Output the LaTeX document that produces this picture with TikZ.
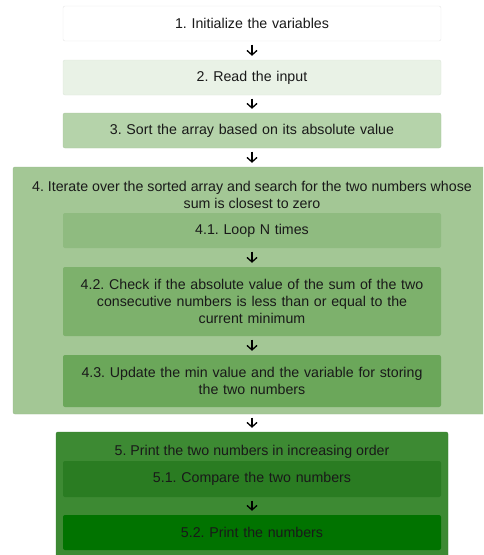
\documentclass[tikz,border=0pt]{standalone}
\usepackage{fontspec}
\setmainfont{Liberation Sans}
\usetikzlibrary{arrows.meta}
\definecolor{c2}{HTML}{E9F2E6}
\definecolor{c3}{HTML}{B5D3AA}
\definecolor{c4}{HTML}{A3C795}
\definecolor{c41}{HTML}{8FBB80}
\definecolor{c42}{HTML}{7DB16C}
\definecolor{c43}{HTML}{6BA75A}
\definecolor{c5}{HTML}{3D8A33}
\definecolor{c51}{HTML}{2A7C22}
\definecolor{c52}{HTML}{017300}
\frenchspacing

\begin{document}
\begin{tikzpicture}[x=1pt,y=-1pt,
    stepbox/.style={rounded corners=2pt,minimum width=378pt,text width=374pt,
      align=center,inner sep=0pt,text=black!90,
      font=\fontsize{14.2}{17}\selectfont},
    title/.style={align=center,inner sep=0pt,text=black!90,
      font=\fontsize{14.2}{17}\selectfont},
    arr/.style={-{Straight Barb[length=4.5pt,width=10pt]},line width=1.3pt,
      shorten <=3.5pt,shorten >=4pt}]
    \useasboundingbox (0,0) rectangle (483,555);
    \clip (0,0) rectangle (483,555);
    % outer groups
    \node[stepbox,fill=c4,draw=c4!80!black!30!c4,minimum width=478pt,minimum height=247pt] (s4) at (252,290.5) {};
    \node[stepbox,fill=c5,draw=c5!90!black,minimum width=392pt,minimum height=134pt] (s5) at (252,499) {};
    \node[title] (t4) at (252,195) {4. Iterate over the sorted array and search for the two numbers whose\\ sum is closest to zero};
    \node[title] (t5) at (252,452) {5. Print the two numbers in increasing order};
    % steps
    \node[stepbox,fill=white,draw=gray!20,minimum height=35pt] (s1) at (252,23.5) {1. Initialize the variables};
    \node[stepbox,fill=c2,draw=c2!95!black,minimum height=35pt] (s2) at (252,77.5) {2. Read the input};
    \node[stepbox,fill=c3,draw=c3!95!black,minimum height=35pt] (s3) at (252,130.5) {3. Sort the array based on its absolute value};
    \node[stepbox,fill=c41,minimum height=35pt] (s41) at (252,230.5) {4.1. Loop N times};
    \node[stepbox,fill=c42,minimum height=69pt] (s42) at (252,301.5) {4.2. Check if the absolute value of the sum of the two\\ consecutive numbers is less than or equal to the\\ current minimum};
    \node[stepbox,fill=c43,minimum height=52pt] (s43) at (252,381) {4.3. Update the min value and the variable for storing\\ the two numbers};
    \node[stepbox,fill=c51,minimum height=36pt] (s51) at (252,479) {5.1. Compare the two numbers};
    \node[stepbox,fill=c52,minimum height=35pt] (s52) at (252,532.5) {5.2. Print the numbers};
    % arrows
    \path[arr] (s1) edge (s2);
    \path[arr] (s2) edge (s3);
    \path[arr] (s3) edge (s4);
    \path[arr] (s41) edge (s42);
    \path[arr] (s42) edge (s43);
    \path[arr] (s4) edge (s5);
    \path[arr] (s51) edge (s52);
\end{tikzpicture}
\end{document}
